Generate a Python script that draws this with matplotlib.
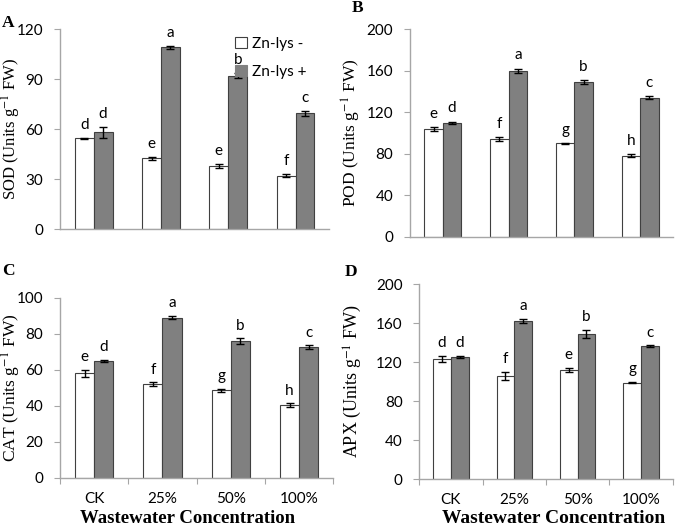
import matplotlib
matplotlib.use("Agg")
import matplotlib.pyplot as plt
import numpy as np
from matplotlib.patches import Patch

categories = ["CK", "25%", "50%", "100%"]
series_names = ["Zn-lys -", "Zn-lys +"]

sod_minus = [54.5, 42.5, 38.0, 32.0]
sod_plus = [58.0, 109.0, 92.0, 69.5]
sod_minus_err = [0.3, 1.0, 1.2, 1.0]
sod_plus_err = [3.5, 1.0, 1.5, 1.5]
sod_minus_let = ["d", "e", "e", "f"]
sod_plus_let = ["d", "a", "b", "c"]

pod_minus = [104.0, 94.0, 90.0, 78.0]
pod_plus = [110.0, 160.0, 149.0, 134.0]
pod_minus_err = [2.0, 2.0, 0.6, 1.5]
pod_plus_err = [1.0, 2.0, 2.0, 1.5]
pod_minus_let = ["e", "f", "g", "h"]
pod_plus_let = ["d", "a", "b", "c"]

cat_minus = [58.0, 52.0, 48.5, 40.5]
cat_plus = [65.0, 89.0, 76.0, 72.5]
cat_minus_err = [2.0, 1.0, 1.0, 1.0]
cat_plus_err = [0.5, 1.0, 1.5, 1.0]
cat_minus_let = ["e", "f", "g", "h"]
cat_plus_let = ["d", "a", "b", "c"]

apx_minus = [123.0, 106.0, 112.0, 99.0]
apx_plus = [125.0, 162.0, 149.0, 136.0]
apx_minus_err = [3.0, 4.0, 2.0, 1.0]
apx_plus_err = [1.0, 2.0, 4.0, 1.0]
apx_minus_let = ["d", "f", "e", "g"]
apx_plus_let = ["d", "a", "b", "c"]

SERIF = "Liberation Serif"
SANS = "Lato"
SANS_SIZE = 10.5

fig = plt.figure(figsize=(6.85, 5.29), dpi=100)
W, H = 685, 529

panels = [
    ("A", [0.0876, 0.567, 0.393, 0.378], "SOD", sod_minus, sod_plus, sod_minus_err, sod_plus_err,
     sod_minus_let, sod_plus_let, 120, 30, False, 23, 12.0, None, None),
    ("B", [0.5985, 0.552, 0.384, 0.393], "POD", pod_minus, pod_plus, pod_minus_err, pod_plus_err,
     pod_minus_let, pod_plus_let, 200, 40, False, 363, 12.5, None, None),
    ("C", [0.0876, 0.097, 0.399, 0.340], "CAT", cat_minus, cat_plus, cat_minus_err, cat_plus_err,
     cat_minus_let, cat_plus_let, 100, 20, True, 23, 12.5, 187.5, 13.5),
    ("D", [0.612, 0.0945, 0.370, 0.3685], "APX", apx_minus, apx_plus, apx_minus_err, apx_plus_err,
     apx_minus_let, apx_plus_let, 200, 40, True, 364, 13.0, 554, 14.0),
]

label_pos = {"A": (8, 23), "B": (358, 8), "C": (8, 271), "D": (351, 272)}

spine_col = "#a6a6a6"
w = 0.28
for (name, rect, enz, vm, vp, em, ep, lm, lp, ymax, step, show_x,
     ylab_x, ylab_fs, xlab_x, xlab_fs) in panels:
    ax = fig.add_axes(rect)
    left_px, bottom_px = rect[0] * W, rect[1] * H
    width_px, height_px = rect[2] * W, rect[3] * H
    x = np.arange(len(categories)) + 0.5
    ax.bar(x - w / 2, vm, w, color="white", edgecolor="#404040", linewidth=0.8, zorder=2)
    ax.bar(x + w / 2, vp, w, color="#808080", edgecolor="#404040", linewidth=0.8, zorder=2)
    ax.errorbar(x - w / 2, vm, yerr=em, fmt="none", ecolor="black", elinewidth=1.0, capsize=3, capthick=1.0, zorder=3)
    ax.errorbar(x + w / 2, vp, yerr=ep, fmt="none", ecolor="black", elinewidth=1.0, capsize=3, capthick=1.0, zorder=3)
    off = ymax * 0.03
    for xi, v, e, t in zip(x - w / 2, vm, em, lm):
        ax.text(xi, v + e + off, t, ha="center", va="bottom", fontsize=SANS_SIZE + 0.5, family=SANS)
    for xi, v, e, t in zip(x + w / 2, vp, ep, lp):
        ax.text(xi, v + e + off, t, ha="center", va="bottom", fontsize=SANS_SIZE + 0.5, family=SANS)
    ax.set_xlim(0, len(categories))
    ax.set_ylim(0, ymax)
    ax.set_yticks(np.arange(0, ymax + 1, step))
    for s in ["top", "right"]:
        ax.spines[s].set_visible(False)
    for s in ["left", "bottom"]:
        ax.spines[s].set_color(spine_col)
        ax.spines[s].set_linewidth(1.0)
    ax.tick_params(axis="y", length=4, color=spine_col, labelsize=SANS_SIZE + 0.5, pad=8)
    for lab in ax.get_yticklabels():
        lab.set_family(SANS)
    if show_x:
        ax.set_xticks(np.arange(0, len(categories) + 1), minor=False)
        ax.set_xticklabels([])
        ax.set_xticks(x, minor=True)
        ax.set_xticklabels(categories, minor=True)
        ax.tick_params(axis="x", which="major", length=4, color=spine_col)
        ax.tick_params(axis="x", which="minor", length=0, labelsize=SANS_SIZE + 0.5, pad=10)
        for lab in ax.get_xticklabels(minor=True):
            lab.set_family(SANS)
        ax.set_xlabel("Wastewater Concentration", family=SERIF, fontsize=xlab_fs, fontweight="bold")
        ax.xaxis.set_label_coords((xlab_x - left_px) / width_px, -(510 - (H - bottom_px)) / height_px)
    else:
        ax.set_xticks([])
    ax.set_ylabel(enz + " (Units g$^{-1}$ FW)", family=SERIF, fontsize=ylab_fs)
    ax.yaxis.label.set_math_fontfamily("stix")
    ax.yaxis.set_label_coords((ylab_x - left_px) / width_px, 0.5)
    fig.text(label_pos[name][0] / W, 1 - label_pos[name][1] / H, name, family=SERIF, fontweight="bold",
             fontsize=12.5, ha="center", va="center")
    if name == "A":
        handles = [Patch(facecolor="white", edgecolor="#404040", linewidth=0.8),
                   Patch(facecolor="#808080", edgecolor="#808080", linewidth=0.8)]
        ax.legend(handles, series_names, loc="upper right", bbox_to_anchor=((314 - left_px) / width_px, 1.0),
                  frameon=False, borderpad=0.0, handlelength=0.8, handleheight=0.8, handletextpad=0.3,
                  labelspacing=0.9, prop={"family": SANS, "size": SANS_SIZE + 0.5})

fig.savefig("out.png", dpi=100)
